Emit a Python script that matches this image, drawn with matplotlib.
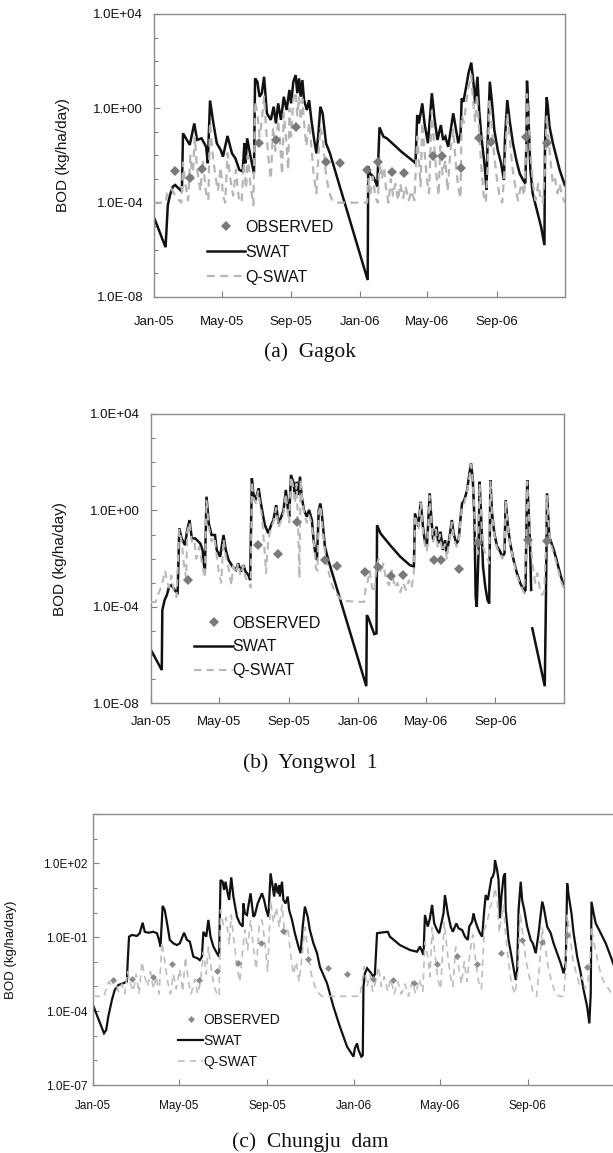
import datetime as dt
import numpy as np
import matplotlib
matplotlib.use("Agg")
import matplotlib.pyplot as plt
import matplotlib.dates as mdates
from matplotlib.ticker import FixedLocator, FuncFormatter, NullFormatter
from matplotlib.lines import Line2D

# ---------------- data: (day since 2005-01-01, log10 BOD kg/ha/day) ----------------
swat_a = [(0,-4.66),(20,-5.89),(24,-4.1),(28,-3.67),(33,-3.32),(37,-3.25),(49,-3.53),(51,-1.06),(63,-1.55),
          (71,-0.64),(76,-1.34),(84,-1.27),(92,-1.63),(95,-2.33),(99,0.33),(105,-0.64),(111,-1.48),(118,-1.77),
          (122,-2.05),(130,-1.17),(138,-1.91),(144,-2.12),(151,-2.61),(157,-2.68),(160,-1.48),(162,-2.33),
          (165,-1.27),(171,-2.05),(177,-2.76),(179,1.27),(183,1.13),(187,0.49),(191,0.64),(195,1.34),(200,-0.21),
          (207,-0.49),(212,0.07),(216,-0.64),(220,0.21),(225,-0.49),(230,0.49),(235,-0.07),(240,0.78),(243,0.21),
          (247,1.13),(251,1.41),(254,0.64),(257,1.27),(260,0.49),(263,1.20),(266,0.35),(271,-0.07),(275,0.35),
          (279,-0.49),(284,-1.34),(288,-1.91),(291,-1.20),(295,0.07),(299,-0.21),(305,-1.48),(312,-1.91),
          (379,-7.28),(380,-2.47),(383,-2.76),(389,-2.90),(394,-3.18),(396,-3.32),(400,-0.81),(407,-1.20),
          (413,-1.27),(439,-1.84),(461,-2.26),(464,-2.33),(467,-0.28),(470,-0.64),(476,0.21),(480,-0.64),
          (486,-1.48),(493,0.64),(498,-0.49),(503,-1.34),(509,-0.71),(513,-1.34),(517,-1.20),(522,-1.63),
          (526,-0.99),(531,-0.21),(536,-0.92),(540,-1.48),(544,-1.06),(546,0.42),(549,0.28),(554,0.92),
          (558,1.48),(563,1.94),(567,1.06),(570,0.21),(574,1.34),(577,-0.07),(581,-1.20),(587,-2.47),
          (590,-3.46),(592,-1.48),(596,1.13),(600,0.21),(604,-0.92),(610,-1.77),(616,-2.33),(621,-3.04),
          (623,-1.20),(627,0.35),(631,-0.49),(637,-1.48),(643,-2.19),(649,-2.76),(655,-3.04),(659,-3.18),
          (661,-1.48),(662,1.17),(664,0.07),(668,-2.61),(672,-3.60),(681,-4.45),(687,-5.02),(693,-5.80),
          (694,-1.48),(697,0.47),(699,0.07),(702,-0.78),(708,-1.48),(714,-2.05),(720,-2.61),(729,-3.25)]

qswat_a = [(0,-4.0),(20,-4.0),(23,-3.6),(30,-3.4),(40,-3.8),(48,-4.0),(51,-2.3),(55,-3.2),(60,-3.9),(64,-2.0),
           (68,-3.0),(72,-1.2),(76,-2.6),(82,-3.5),(86,-2.2),(92,-3.6),(96,-3.9),(99,-0.6),(103,-1.8),(108,-2.8),
           (113,-3.5),(118,-2.5),(122,-3.7),(126,-4.0),(130,-1.9),(135,-3.0),(140,-3.7),(145,-2.6),(150,-3.8),
           (155,-4.0),(159,-2.3),(163,-3.4),(166,-2.0),(171,-3.3),(176,-4.1),(179,0.3),(183,-0.2),(187,-1.2),
           (191,-0.5),(195,0.5),(199,-1.0),(203,-2.2),(207,-3.0),(211,-0.8),(215,-1.8),(220,-0.5),(224,-1.7),
           (227,-2.8),(230,-0.2),(234,-1.3),(238,-2.6),(240,0.0),(243,-1.2),(247,0.4),(251,0.7),(254,-0.3),
           (257,0.5),(260,-0.5),(263,0.4),(266,-0.6),(270,-1.6),(275,-0.6),(279,-1.6),(283,-2.8),(288,-3.6),
           (291,-2.2),(295,-0.8),(299,-1.2),(304,-2.6),(310,-3.5),(316,-3.9),(322,-4.0),(378,-4.0),(380,-3.0),
           (384,-3.6),(388,-2.9),(393,-3.8),(397,-4.0),(400,-2.2),(404,-3.0),(408,-2.5),(412,-3.5),(416,-4.0),
           (420,-3.0),(424,-3.7),(428,-3.2),(433,-3.9),(437,-3.2),(442,-3.8),(446,-3.3),(452,-3.9),(457,-3.5),
           (462,-3.9),(467,-1.2),(470,-2.2),(473,-3.3),(476,-0.6),(480,-1.8),(484,-3.0),(488,-3.6),(493,-0.1),
           (497,-1.5),(501,-2.8),(505,-3.7),(508,-1.6),(512,-2.8),(517,-2.2),(521,-3.5),(526,-1.8),(531,-0.9),
           (535,-2.2),(540,-3.4),(544,-3.8),(546,-0.3),(550,-0.6),(554,0.2),(558,0.9),(563,1.4),(566,0.4),
           (570,-0.6),(573,0.6),(577,-1.0),(581,-2.5),(585,-3.7),(589,-4.0),(592,-2.5),(595,0.3),(599,-0.6),
           (603,-1.8),(608,-2.9),(613,-3.7),(618,-4.0),(623,-2.3),(627,-0.2),(631,-1.2),(636,-2.5),(641,-3.3),
           (646,-3.9),(652,-3.2),(657,-3.7),(660,-2.0),(662,0.6),(665,-0.6),(669,-2.2),(673,-3.3),(677,-3.9),
           (682,-3.2),(686,-3.8),(690,-4.0),(694,-2.5),(697,-0.3),(700,-1.2),(704,-2.3),(708,-3.2),(712,-3.0),
           (716,-3.6),(720,-3.2),(724,-3.7),(729,-4.0)]

obs_a = [(37,-2.64),(64,-2.97),(85,-2.57),(186,-1.45),(217,-1.34),(252,-0.80),(305,-2.28),(330,-2.33),
         (378,-2.62),(398,-2.26),(423,-2.72),(444,-2.76),(495,-2.02),(511,-2.02),(545,-2.52),(576,-1.24),
         (598,-1.44),(661,-1.22),(697,-1.48)]

swat_b = [(0,-5.79),(19,-6.62),(20,-4.13),(24,-3.72),(28,-3.51),(32,-3.16),(36,-3.10),(44,-3.37),(47,-3.41),
          (50,-0.74),(54,-1.16),(60,-1.44),(64,-0.81),(68,-0.40),(72,-1.16),(78,-1.16),(87,-1.37),(91,-1.64),
          (95,-2.61),(98,0.57),(102,-0.54),(107,-1.02),(113,-1.02),(116,-1.64),(122,-1.92),(128,-1.02),
          (132,-1.64),(137,-2.06),(144,-2.33),(150,-2.47),(154,-2.20),(159,-2.54),(163,-2.27),(167,-2.54),
          (172,-2.68),(175,-2.89),(178,1.33),(181,0.64),(185,0.50),(190,0.92),(193,0.43),(196,0.02),(201,-0.61),
          (207,-0.95),(212,-0.61),(216,-0.40),(221,0.22),(225,-0.54),(230,-0.26),(234,0.02),(238,0.85),
          (242,0.02),(244,-0.26),(247,1.47),(252,1.12),(254,0.50),(257,1.19),(260,0.64),(263,1.40),(266,0.57),
          (270,0.02),(275,-0.26),(279,0.02),(284,-0.40),(287,-1.23),(290,-1.78),(293,-2.06),(296,0.02),
          (299,0.29),(302,-0.26),(307,-1.51),(313,-2.06),(380,-7.29),(381,-4.34),(384,-4.48),(394,-5.13),
          (398,-5.10),(399,-0.61),(405,-0.95),(422,-1.44),(440,-1.92),(457,-2.27),(464,-2.33),(466,-0.12),
          (469,-0.40),(472,-0.67),(476,0.36),(480,-0.67),(483,-1.23),(487,-1.51),(492,0.71),(495,-0.40),
          (498,-1.23),(504,-0.67),(507,-1.37),(511,-0.88),(515,-1.64),(519,-1.23),(522,-1.78),(527,-1.09),
          (531,-0.40),(534,-0.95),(539,-1.37),(543,-1.23),(546,-0.40),(549,0.29),(553,0.43),(558,0.85),
          (562,1.54),(565,1.95),(568,1.26),(571,-0.40),(573,-3.58),(575,-4.00),(578,-1.78),(580,1.19),
          (583,-0.40),(586,-2.33),(590,-3.16),(594,-3.72),(597,-3.86),(599,1.26),(602,-0.12),(606,-0.95),
          (611,-1.51),(615,-1.64),(620,-1.92),(624,-1.78),(626,0.43),(630,-0.67),(634,-1.37),(640,-2.06),
          (646,-2.61),(652,-3.03),(659,-3.37),(661,-3.30),(664,1.26),(667,-0.26),(669,-1.40),(671,-3.30),
          (672,None),
          (673,-4.89),(695,-7.29),(697,-3.86),(699,0.71),(703,-1.09),(707,-1.37),(711,-1.64),(716,-2.06),
          (722,-2.61),(729,-3.16)]

qswat_b = [(0,-3.8),(8,-3.8),(12,-3.5),(16,-3.3),(20,-3.0),(25,-2.5),(28,-2.9),(32,-3.2),(36,-2.7),(40,-3.3),
           (45,-3.6),(50,-0.8),(54,-1.3),(58,-2.2),(62,-2.8),(64,-0.9),(68,-0.5),(72,-1.3),(76,-1.2),(80,-2.0),
           (85,-1.5),(90,-2.2),(95,-2.8),(98,0.4),(102,-0.7),(107,-1.3),(112,-1.1),(116,-1.9),(120,-2.6),
           (124,-3.0),(128,-1.2),(132,-1.9),(137,-2.4),(142,-3.1),(145,-2.3),(150,-2.6),(154,-2.2),(158,-2.7),
           (163,-2.3),(167,-2.8),(172,-3.0),(176,-3.2),(178,1.2),(181,0.5),(185,0.3),(189,0.8),(193,0.2),
           (196,-0.3),(200,-1.5),(203,-2.6),(207,-1.2),(212,-0.7),(216,-0.5),(221,0.1),(225,-0.7),(230,-0.4),
           (234,-0.1),(238,0.7),(242,-0.2),(244,-0.5),(247,1.4),(251,1.0),(254,0.3),(257,1.1),(260,-1.0),
           (262,-2.8),(264,1.3),(267,0.4),(271,-0.2),(275,-0.5),(279,-0.2),(284,-0.6),(288,-1.5),(291,-2.4),
           (294,-2.5),(296,-0.1),(299,0.2),(302,-0.5),(307,-1.7),(312,-2.4),(318,-3.0),(325,-3.4),(332,-3.6),
           (338,-3.75),(376,-3.8),(379,-3.2),(382,-3.0),(386,-2.5),(390,-3.2),(394,-3.4),(398,-2.3),(402,-2.0),
           (406,-2.6),(410,-2.2),(415,-2.9),(420,-3.1),(425,-2.5),(430,-3.2),(435,-3.0),(440,-3.4),(445,-3.0),
           (450,-3.3),(455,-2.9),(460,-3.2),(464,-2.6),(466,-0.2),(469,-0.5),(472,-0.8),(476,0.3),(480,-0.8),
           (483,-1.4),(487,-1.7),(492,0.6),(495,-0.5),(498,-1.3),(503,-0.8),(506,-1.5),(510,-1.0),(514,-1.7),
           (519,-1.4),(522,-2.0),(527,-1.2),(531,-0.5),(534,-1.1),(539,-1.5),(543,-1.4),(546,-0.5),(549,0.2),
           (553,0.3),(558,0.8),(562,1.4),(565,1.9),(568,1.2),(571,-0.3),(574,-1.3),(577,-1.8),(580,1.1),
           (583,-0.4),(586,-1.5),(590,-1.8),(594,-2.0),(597,-2.2),(599,1.2),(602,-0.2),(606,-1.0),(611,-1.6),
           (615,-1.7),(620,-2.0),(624,-1.8),(626,0.4),(630,-0.7),(634,-1.4),(640,-2.1),(646,-2.7),(652,-3.1),
           (658,-3.4),(662,-2.0),(664,1.2),(667,-0.3),(670,-1.4),(674,-2.3),(678,-3.0),(682,-2.6),(686,-3.2),
           (690,-3.5),(694,-3.4),(697,-1.5),(699,0.6),(703,-1.0),(707,-1.5),(711,-1.8),(716,-2.2),(721,-2.7),
           (726,-3.1),(729,-3.2)]

obs_b = [(65,-2.89),(188,-1.44),(224,-1.81),(258,-0.50),(308,-2.06),(329,-2.31),(378,-2.54),(400,-2.33),
         (424,-2.72),(444,-2.68),(499,-2.06),(512,-2.06),(544,-2.45),(577,-1.35),(666,-1.23),(699,-1.28)]

swat_c = [(0,-3.79),(15,-4.90),(18,-4.77),(21,-4.22),(26,-3.55),(30,-3.14),(35,-2.94),(42,-2.87),(47,-2.80),
          (48,-2.06),(50,-0.98),(54,-0.91),(61,-0.95),(65,-0.84),(69,-0.41),(72,-0.78),(77,-0.82),(84,-0.78),
          (89,-0.84),(92,-1.11),(94,-1.38),(97,0.27),(100,0.10),(104,-0.57),(107,-1.11),(112,-1.25),(117,-1.32),
          (121,-1.25),(127,-0.82),(131,-1.11),(135,-1.18),(140,-1.79),(146,-1.86),(149,-1.93),(152,-1.79),
          (154,-0.78),(158,-0.98),(161,-0.30),(164,-0.98),(168,-1.38),(173,-1.65),(176,-1.79),(178,1.32),
          (181,1.25),(183,0.92),(185,1.25),(188,0.78),(190,0.51),(193,1.43),(196,0.65),(201,-0.17),(205,-0.44),
          (209,-0.57),(210,0.37),(212,-0.03),(215,-0.10),(217,0.27),(220,0.78),(224,-0.17),(226,-0.10),
          (230,0.37),(232,0.51),(236,0.78),(239,0.51),(242,0.10),(245,-0.17),(248,1.59),(251,1.05),(253,0.65),
          (255,1.19),(258,0.78),(260,1.12),(261,0.65),(264,1.25),(266,0.51),(269,0.37),(272,0.65),(274,0.10),
          (278,-0.30),(282,-0.84),(287,-1.38),(290,-1.65),(293,-0.57),(296,0.24),(300,-0.17),(303,-0.71),
          (308,-1.25),(313,-1.65),(317,-2.20),(327,-2.87),(336,-3.82),(345,-4.63),(355,-5.44),(364,-5.85),
          (366,-5.51),(369,-5.31),(371,-5.58),(375,-5.85),(377,-5.80),(378,-3.01),(380,-2.47),(383,-2.26),
          (387,-2.40),(392,-2.60),(394,-2.50),(397,-0.84),(401,-0.82),(412,-0.78),(415,-0.98),(429,-1.32),
          (443,-1.52),(453,-1.59),(457,-1.38),(462,-1.72),(464,-0.10),(468,-0.57),(471,-0.23),(474,0.31),
          (477,-0.44),(481,-0.71),(484,-0.84),(490,-0.03),(492,0.71),(496,-0.03),(500,-0.57),(503,-0.78),
          (508,-0.44),(511,-0.64),(516,-0.71),(520,-0.98),(524,-1.11),(526,-0.57),(530,-0.37),(532,-0.03),
          (534,-0.30),(538,-0.64),(541,-0.84),(544,-0.98),(547,0.10),(549,0.71),(552,0.51),(555,1.05),
          (557,1.39),(559,1.46),(561,1.66),(562,2.13),(565,1.73),(567,1.32),(569,-0.23),(571,0.65),(574,1.46),
          (576,1.59),(577,0.10),(581,-1.11),(586,-1.93),(591,-2.74),(593,-2.33),(595,0.10),(598,1.25),
          (600,0.51),(603,0.10),(607,-0.57),(612,-1.11),(615,-1.25),(619,-1.65),(623,-0.84),(628,0.44),
          (630,0.24),(635,-0.57),(640,-0.84),(644,-1.25),(649,-1.65),(654,-2.06),(658,-2.47),(661,-2.06),
          (663,1.19),(665,0.71),(669,-0.03),(672,-0.84),(677,-1.79),(682,-2.47),(686,-3.14),(691,-3.82),
          (694,-4.50),(696,-3.28),(697,0.44),(700,-0.03),(703,-0.44),(710,-0.84),(717,-1.25),(724,-1.79),
          (729,-2.20)]

qswat_c = [(0,-3.4),(15,-3.4),(18,-3.1),(22,-2.8),(26,-3.0),(30,-2.7),(35,-3.2),(40,-2.9),(44,-3.3),(48,-2.4),
           (52,-2.9),(56,-3.2),(60,-2.5),(64,-3.3),(68,-2.0),(72,-2.6),(76,-3.0),(80,-2.4),(84,-3.1),(88,-2.6),
           (92,-3.3),(96,-1.2),(100,-2.0),(104,-2.8),(108,-3.3),(112,-2.5),(116,-3.1),(121,-2.3),(125,-3.2),
           (129,-1.8),(133,-2.8),(137,-3.3),(142,-2.7),(146,-3.3),(150,-2.8),(154,-1.6),(158,-2.5),(161,-1.4),
           (165,-2.3),(169,-3.0),(173,-3.3),(176,-3.4),(178,0.1),(182,-0.5),(186,-0.2),(190,-1.3),(193,-0.1),
           (197,-1.2),(201,-2.2),(205,-2.8),(209,-1.5),(212,-0.7),(216,-1.5),(220,-0.3),(224,-1.4),(228,-2.3),
           (232,-0.6),(236,-0.3),(240,-1.2),(244,-2.4),(248,0.5),(252,-0.4),(256,0.2),(260,-0.6),(264,0.3),
           (268,-0.9),(272,-0.6),(276,-1.7),(280,-2.5),(284,-2.0),(288,-2.8),(292,-1.8),(296,-0.6),(300,-1.5),
           (305,-2.5),(310,-3.0),(316,-3.3),(320,-3.4),(373,-3.4),(376,-2.8),(379,-2.2),(383,-3.0),(387,-2.5),
           (391,-3.2),(395,-2.8),(399,-2.2),(403,-3.0),(407,-2.6),(412,-3.2),(416,-2.7),(421,-3.3),(426,-2.8),
           (431,-3.3),(436,-2.9),(441,-3.4),(446,-2.8),(451,-3.3),(456,-2.7),(461,-3.2),(464,-1.2),(468,-1.8),
           (471,-2.6),(474,-0.6),(478,-1.7),(482,-2.7),(486,-3.1),(491,-0.4),(495,-1.5),(499,-2.5),(503,-3.0),
           (507,-1.4),(511,-2.2),(515,-2.9),(519,-2.0),(523,-2.8),(527,-1.6),(531,-0.9),(535,-2.0),(539,-2.8),
           (543,-3.1),(547,-0.7),(551,-0.4),(555,0.2),(559,0.5),(562,1.0),(565,0.5),(568,-0.8),(571,-0.2),
           (574,0.3),(577,-1.0),(581,-2.0),(585,-2.9),(590,-3.3),(594,-2.5),(597,0.0),(601,-0.9),(605,-1.9),
           (610,-2.6),(615,-3.2),(620,-3.4),(624,-2.3),(628,-0.6),(632,-1.4),(637,-2.3),(642,-2.9),(647,-3.3),
           (652,-3.4),(658,-3.4),(661,-2.4),(663,-0.1),(667,-0.9),(671,-1.9),(676,-2.5),(680,-2.9),(684,-2.6),
           (688,-3.1),(692,-2.8),(695,-2.0),(697,-0.6),(701,-1.3),(706,-2.0),(711,-2.6),(716,-2.9),(721,-3.1),
           (725,-3.3),(729,-3.4)]

obs_c = [(28,-2.74),(54,-2.70),(83,-2.63),(110,-2.09),(148,-2.74),(173,-2.37),(202,-2.06),(235,-1.25),
         (265,-0.74),(300,-1.88),(328,-2.26),(355,-2.49),(391,-2.70),(419,-2.74),(448,-2.85),(481,-2.08),
         (509,-1.75),(537,-2.10),(571,-1.65),(600,-1.11),(628,-1.18),(663,-0.93),(691,-2.21)]

series_labels = ["OBSERVED", "SWAT", "Q-SWAT"]
tick_dates = ["2005-01-01", "2005-05-01", "2005-09-01", "2006-01-01", "2006-05-01", "2006-09-01"]
captions = ["(a)  Gagok", "(b)  Yongwol  1", "(c)  Chungju  dam"]
ylabel = "BOD (kg/ha/day)"

# ---------------- helpers ----------------
BASE = mdates.date2num(dt.datetime(2005, 1, 1))
SANS = ["Liberation Sans", "DejaVu Sans"]
SERIF = ["Liberation Serif", "DejaVu Serif"]


def xy(pairs):
    d = np.array([p[0] for p in pairs], dtype=float) + BASE
    v = np.array([np.nan if p[1] is None else 10.0 ** p[1] for p in pairs])
    return d, v


def style_axes(ax, ylo, yhi, major_exps, tick_fs, ypad, xpad):
    ax.set_yscale("log")
    ax.set_ylim(10.0 ** ylo, 10.0 ** yhi)
    ax.yaxis.set_major_locator(FixedLocator([10.0 ** e for e in major_exps]))
    ax.yaxis.set_minor_locator(FixedLocator([10.0 ** e for e in range(ylo, yhi + 1)]))
    ax.yaxis.set_major_formatter(FuncFormatter(lambda v, p: f"{v:.1E}"))
    ax.yaxis.set_minor_formatter(NullFormatter())
    ax.set_xlim(BASE, BASE + 729.5)
    ax.xaxis.set_major_locator(FixedLocator(
        [mdates.date2num(dt.datetime.strptime(s, "%Y-%m-%d")) for s in tick_dates]))
    ax.xaxis.set_major_formatter(mdates.DateFormatter("%b-%y"))
    ax.tick_params(which="both", direction="in", color="#808080", width=0.8)
    ax.tick_params(which="major", length=4)
    ax.tick_params(which="minor", length=3)
    ax.tick_params(axis="y", which="major", pad=ypad)
    ax.tick_params(axis="x", which="major", pad=xpad)
    for lab in ax.get_xticklabels() + ax.get_yticklabels():
        lab.set_fontfamily(SANS)
        lab.set_fontsize(tick_fs)
        lab.set_color("#111111")
    for sp in ax.spines.values():
        sp.set_color("#8a8a8a")
        sp.set_linewidth(1.0)


def draw_panel(ax, swat, qswat, obs, lw_s, lw_q, qcol, ocol, msize, dash):
    xs, ys = xy(swat)
    xq, yq = xy(qswat)
    xo, yo = xy(obs)
    ax.plot(xs, ys, color="#111111", lw=lw_s, zorder=2, solid_joinstyle="miter")
    ax.plot(xq, yq, color=qcol, lw=lw_q, linestyle=(0, dash), zorder=3)
    ax.plot(xo, yo, linestyle="None", marker="D", markersize=msize, color=ocol,
            markeredgewidth=0, zorder=4)


def add_legend(ax, anchor, fs, hlen, lw_s, lw_q, qcol, ocol, msize, dash, spacing):
    handles = [
        Line2D([], [], linestyle="None", marker="D", markersize=msize, color=ocol, markeredgewidth=0),
        Line2D([], [], color="#111111", lw=lw_s),
        Line2D([], [], color=qcol, lw=lw_q, linestyle=(0, dash)),
    ]
    leg = ax.legend(handles, series_labels, loc="upper left", bbox_to_anchor=anchor,
                    frameon=False, handlelength=hlen, handletextpad=0.0, borderpad=0,
                    borderaxespad=0, labelspacing=spacing,
                    prop={"family": SANS, "size": fs})
    for t in leg.get_texts():
        t.set_color("#111111")


# ---------------- figure ----------------
W, H = 613, 1153
fig = plt.figure(figsize=(W / 100, H / 100), dpi=100)


def px_axes(left, top, right, bottom):
    return fig.add_axes([left / W, 1 - bottom / H, (right - left) / W, (bottom - top) / H])


# panel (a)
ax1 = px_axes(154.3, 14, 565, 297)
draw_panel(ax1, swat_a, qswat_a, obs_a, 1.8, 1.6, "#b5b5b5", "#7a7a7a", 5.2, (3.5, 2.5))
style_axes(ax1, -8, 4, [-8, -4, 0, 4], 9.5, 8, 14)
ax1.set_ylabel(ylabel, family=SANS, fontsize=11, color="#111111")
ax1.yaxis.set_label_coords(-0.205, 0.5)
add_legend(ax1, (0.128, 0.272), 11.5, 2.4, 1.8, 1.6, "#b5b5b5", "#7a7a7a", 5.2, (3.5, 2.5), 0.62)

# panel (b)
ax2 = px_axes(151, 414, 564.3, 703.3)
draw_panel(ax2, swat_b, qswat_b, obs_b, 1.8, 1.5, "#b8b8b8", "#7a7a7a", 5.2, (3.5, 2.5))
style_axes(ax2, -8, 4, [-8, -4, 0, 4], 9.5, 8, 9)
ax2.set_ylabel(ylabel, family=SANS, fontsize=11, color="#111111")
ax2.yaxis.set_label_coords(-0.203, 0.5)
add_legend(ax2, (0.105, 0.303), 11.5, 2.4, 1.8, 1.5, "#b8b8b8", "#7a7a7a", 5.2, (3.5, 2.5), 0.55)

# panel (c)
ax3 = px_axes(93.3, 814, 614.7, 1085)
draw_panel(ax3, swat_c, qswat_c, obs_c, 1.6, 1.2, "#bdbdbd", "#8a8a8a", 3.5, (4, 3))
style_axes(ax3, -7, 4, [-7, -4, -1, 2], 8.5, 4, 10.5)
ax3.spines["right"].set_visible(False)
ax3.set_ylabel(ylabel, family=SANS, fontsize=9.5, color="#111111")
ax3.yaxis.set_label_coords(-0.147, 0.5)
add_legend(ax3, (0.163, 0.265), 10, 1.8, 1.6, 1.2, "#bdbdbd", "#8a8a8a", 3.5, (4, 3), 0.5)

# captions
for txt, ybase in zip(captions, [357, 768, 1147]):
    fig.text(310 / W, 1 - ybase / H, txt, ha="center", va="baseline",
             family=SERIF, fontsize=15.5, color="#111111")

fig.savefig("out.png", dpi=100)
